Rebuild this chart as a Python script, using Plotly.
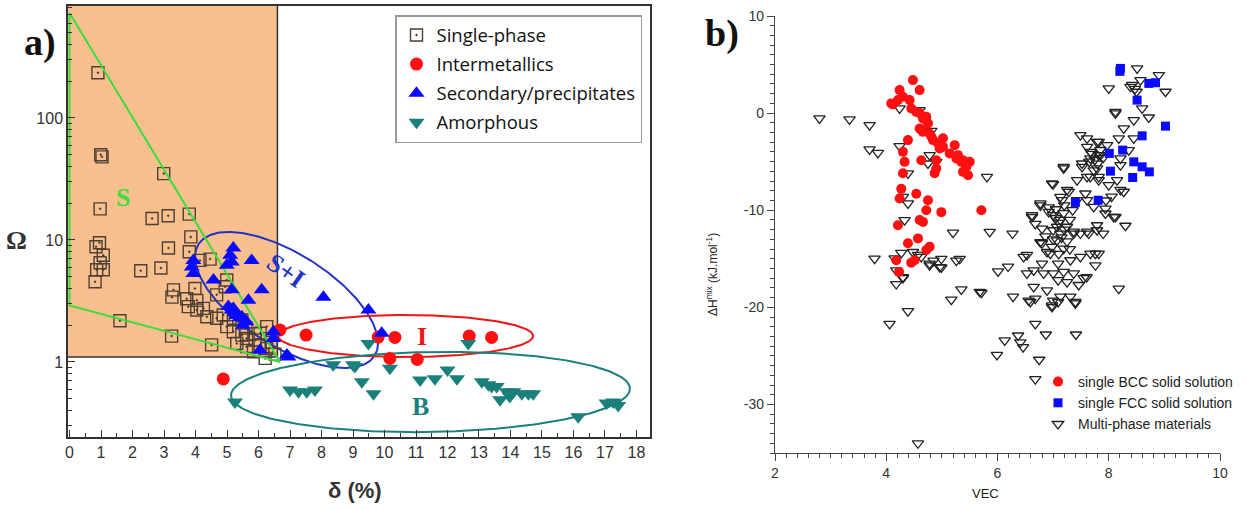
import numpy as np
import plotly.graph_objects as go

W, H = 1247, 510

# ---------------- panel a data (delta %, Omega) ----------------
sp_delta = [0.90, 0.99, 1.03, 2.99, 0.97, 2.62, 3.13, 3.80, 3.85, 0.95,
            3.14, 3.80, 0.84, 1.07, 0.97, 0.86, 1.07, 0.81, 2.26, 2.90,
            1.60, 3.24, 4.51, 4.46, 3.30, 3.25, 3.72, 4.04, 3.98, 4.04,
            3.77, 4.67, 4.94, 4.67, 4.99, 5.20, 5.47, 5.62, 5.89, 6.05,
            6.26, 6.26, 6.05, 6.21, 6.52, 4.88, 5.20, 5.47, 4.25, 4.36,
            5.31, 5.62, 5.84, 4.99, 4.14, 5.60, 5.90, 6.40]
sp_omega = [235, 50, 48, 35, 18, 15, 15.8, 16.3, 10.6, 9.5,
            8.6, 8.0, 8.8, 7.5, 6.5, 5.7, 5.7, 4.55, 5.6, 5.9,
            2.18, 1.63, 1.38, 6.97, 3.9, 3.4, 3.3, 3.2, 4.0, 2.67,
            2.84, 3.55, 4.14, 2.28, 1.95, 1.77, 1.66, 1.56, 1.51, 1.38,
            1.29, 1.95, 1.72, 1.07, 1.16, 2.43, 2.28, 2.21, 2.75, 2.35,
            1.42, 1.34, 1.21, 4.7, 6.8, 1.9, 1.7, 1.45]

im_delta = [4.88, 6.68, 7.51, 9.80, 10.33, 10.17, 11.04, 12.69, 13.40]
im_omega = [0.726, 1.83, 1.66, 1.60, 1.59, 1.07, 1.05, 1.63, 1.59]

sec_delta = [5.20, 5.10, 5.15, 4.99, 5.78, 3.93, 3.88, 3.93, 4.57, 5.15,
             6.10, 5.68, 8.06, 5.20, 5.04, 5.31, 5.47, 5.62, 5.15, 6.47,
             6.05, 6.47, 6.95, 9.49, 9.91, 6.90, 5.30, 5.40, 5.50, 5.25]
sec_omega = [8.6, 7.5, 6.6, 6.2, 6.8, 6.8, 6.0, 5.3, 4.7, 3.9,
             3.9, 3.2, 3.4, 2.75, 2.85, 2.5, 2.35, 2.14, 2.67, 1.77,
             1.25, 1.56, 1.10, 2.67, 1.72, 1.14, 2.4, 2.3, 2.0, 2.55]

am_delta = [5.25, 7.00, 7.27, 7.53, 7.79, 8.37, 9.00, 9.49, 9.06, 9.28,
            9.65, 10.17, 11.13, 11.60, 12.00, 12.30, 12.66, 13.09, 13.30, 13.40,
            13.56, 13.67, 13.88, 13.98, 14.09, 14.36, 14.57, 14.72, 16.15, 17.05,
            17.26, 17.42]
am_omega = [0.47, 0.59, 0.57, 0.57, 0.59, 0.95, 0.95, 1.42, 0.92, 0.69,
            0.55, 0.89, 0.71, 0.73, 0.86, 0.73, 1.42, 0.69, 0.65, 0.63,
            0.63, 0.49, 0.57, 0.52, 0.57, 0.55, 0.55, 0.55, 0.356, 0.46,
            0.47, 0.44]

# region limits / guide lines (panel a)
box_delta, box_omega = 6.6, 1.1
green_delta = [6.68, 0.0, 0.0, 6.68]
green_omega = [1.0, 725.0, 2.9, 1.0]

x_ticks_a = list(range(0, 19))
y_ticks_a = [1, 10, 100]

# ---------------- panel b data (VEC, dHmix) ----------------
bcc_vec = [4.09, 4.21, 4.24, 4.30, 4.48, 4.60, 4.42, 4.45, 4.54, 4.60,
           4.66, 4.72, 4.75, 4.60, 4.66, 4.78, 4.84, 4.93, 5.02, 5.02,
           4.96, 4.39, 4.30, 4.33, 4.30, 4.27, 4.24, 4.21, 4.39, 4.57,
           4.60, 4.66, 4.54, 4.63, 4.90, 4.90, 4.87, 4.75, 4.72, 4.99,
           5.23, 5.29, 5.38, 5.14, 5.26, 5.35, 5.44, 5.50, 5.47, 5.38,
           5.71, 4.18, 4.45, 4.51, 4.23, 4.78, 4.72, 4.63, 4.81, 4.12]
bcc_h = [1.00, 1.34, 2.37, 1.68, 3.40, 2.37, 1.34, 0.48, 0.13, 0.00,
         -0.55, -0.38, -1.06, -1.58, -1.93, -2.10, -2.78, -3.13, -2.60, -3.47,
         -3.64, -2.78, -3.99, -5.02, -6.20, -7.80, -8.80, -11.55, -13.40, -12.90,
         -11.00, -11.20, -8.30, -4.85, -4.85, -5.70, -6.20, -8.97, -10.00, -10.20,
         -3.30, -4.33, -4.85, -4.15, -4.67, -5.02, -5.53, -5.02, -6.40, -6.05,
         -10.00, -15.15, -15.40, -15.15, -16.35, -13.75, -14.10, -1.75, -2.40, 0.90]

fcc_vec = [8.21, 8.72, 8.84, 8.51, 9.02, 8.60, 8.25, 8.01, 8.45, 8.60,
           8.73, 8.43, 8.03, 7.40, 7.81, 8.20]
fcc_h = [4.60, 3.06, 3.13, 1.34, -1.34, -2.34, -3.81, -4.15, -5.02, -5.53,
         -6.05, -6.63, -5.98, -9.20, -8.97, 4.30]

mp_vec = [2.80, 3.34, 3.70, 3.70, 3.85, 4.24, 4.60, 4.81, 4.24, 4.78,
          4.75, 4.90, 4.39, 4.30, 4.39, 4.33, 5.20, 3.79, 4.15, 4.63,
          4.99, 5.32, 5.81, 5.86, 4.57, 4.78, 4.96, 4.30, 4.18, 5.17,
          5.35, 5.71, 4.39, 4.06, 4.57, 4.18, 4.99, 6.27, 6.01, 6.19,
          6.28, 6.47, 6.53, 6.65, 6.56, 6.68, 6.98, 7.00, 7.13, 6.89,
          6.83, 7.00, 7.09, 7.25, 7.46, 7.37, 7.19, 7.55, 7.31, 7.40,
          7.60, 7.09, 7.31, 7.49, 7.67, 7.76, 7.82, 8.18, 6.80, 6.95,
          6.98, 7.07, 7.13, 7.00, 7.25, 7.37, 7.49, 7.64, 7.79, 7.90,
          6.86, 6.80, 6.62, 6.68, 6.80, 6.77, 6.92, 7.00, 7.13, 7.19,
          7.16, 7.25, 7.43, 7.61, 7.73, 7.52, 7.67, 7.85, 7.61, 7.49,
          7.82, 8.12, 7.19, 6.98, 7.43, 7.61, 7.73, 7.94, 8.09, 8.00,
          7.82, 8.21, 6.65, 8.51, 8.90, 9.02, 8.00, 8.39, 8.57, 8.12,
          8.60, 8.72, 8.45, 8.27, 8.45, 7.61, 7.79, 8.18, 7.97, 7.67,
          7.82, 8.21, 8.36, 7.19, 7.52, 7.79, 8.21, 7.00, 7.67, 7.82,
          8.15, 8.27, 7.13, 7.28, 7.58, 7.94, 8.12, 6.77, 6.92, 6.62,
          6.53, 6.77, 7.07, 7.37, 7.61, 7.79, 7.76, 7.19, 6.89, 6.68,
          6.37, 6.13, 6.46, 6.41, 5.99, 6.87, 7.41, 6.75, 6.68, 6.98,
          7.40, 7.09, 6.59, 4.30, 4.78, 7.05, 7.10, 7.20, 7.15, 7.25,
          7.30, 7.05, 7.20, 7.35, 7.00, 7.30, 7.10, 7.70, 7.75, 7.80,
          7.90, 7.65, 7.85, 8.42, 8.47, 8.50, 5.68, 4.85, 5.26, 4.48,
          4.27, 8.30, 8.05, 7.95]
mp_h = [-0.55, -0.65, -1.24, -3.74, -4.09, 0.48, 0.31, -1.82, -3.40, -4.33,
        -5.19, -5.02, -6.20, -8.62, -9.30, -11.03, -12.30, -14.98, -14.95, -14.80,
        -15.00, -15.00, -6.56, -12.23, -14.60, -15.50, -15.85, -16.98, -17.60, -19.20,
        -18.16, -18.50, -20.40, -21.70, -34.00, -16.20, -15.90, -12.40, -16.30, -15.80,
        -18.90, -14.80, -16.50, -16.20, -19.30, -19.10, -19.80, -19.30, -18.90, -18.25,
        -16.50, -16.50, -17.20, -17.40, -17.70, -16.50, -16.35, -17.00, -18.90, -19.45,
        -16.90, -15.50, -15.15, -14.80, -14.47, -15.67, -14.47, -18.07, -15.50, -14.47,
        -13.78, -13.10, -12.40, -12.06, -11.70, -12.20, -12.40, -12.40, -12.06, -12.40,
        -12.70, -13.40, -10.70, -11.40, -11.90, -9.50, -9.70, -10.50, -11.00, -10.30,
        -8.97, -7.90, -6.90, -6.56, -5.90, -5.53, -4.67, -4.33, -3.47, -2.27,
        -2.96, -0.03, -5.70, -7.25, -8.97, -8.97, -9.66, -10.34, -10.70, -7.42,
        -6.90, -7.90, -17.90, 4.60, 3.92, 2.20, 2.54, 2.71, 3.40, 0.13,
        0.48, -0.45, -0.72, -1.58, -2.60, -2.60, -2.96, -2.60, -3.30, -3.99,
        -4.33, -4.67, -3.81, -5.53, -5.19, -5.70, -5.36, -7.32, -6.56, -6.56,
        -6.90, -8.10, -8.62, -8.10, -8.28, -9.83, -10.70, -9.30, -10.17, -10.50,
        -14.60, -13.30, -11.70, -12.40, -12.20, -11.55, -14.47, -13.95, -14.30, -21.70,
        -22.90, -23.40, -24.10, -23.60, -24.90, -22.80, -22.80, -25.40, -27.40, -19.97,
        -19.60, -19.45, -19.45, -16.90, -15.67, -10.80, -11.30, -12.00, -12.80, -13.20,
        -11.00, -9.90, -9.50, -10.00, -13.00, -14.00, -14.50, -4.20, -4.80, -5.20,
        -4.60, -5.00, -3.80, 2.90, 2.50, 2.20, -18.40, -15.20, -15.20, -14.30,
        -14.40, -11.60, -8.60, -9.00]

x_ticks_b = [2, 4, 6, 8, 10]
y_ticks_b = [10, 0, -10, -20, -30]

# ---------------- geometry ----------------
XA_PX = (68, 650)
YA_PX = (6, 437)
XA_RANGE = [-0.05, 18.43]
YA_RANGE = [-0.615, 2.918]
SX = (XA_PX[1] - XA_PX[0]) / (XA_RANGE[1] - XA_RANGE[0])
SY = (YA_PX[1] - YA_PX[0]) / (YA_RANGE[1] - YA_RANGE[0])

XB_PX = (775, 1220)
YB_PX = (16, 453)


def ellipse(cx, clog, a_px, b_px, ang_deg, n=300):
    t = np.linspace(0, 2 * np.pi, n)
    th = np.radians(ang_deg)
    dx = a_px * np.cos(t) * np.cos(th) - b_px * np.sin(t) * np.sin(th)
    dy = a_px * np.cos(t) * np.sin(th) + b_px * np.sin(t) * np.cos(th)
    return cx + dx / SX, 10 ** (clog - dy / SY)


ORANGE = '#f8c08f'
SQ = '#4d3f33'
GREEN = '#3ddc3d'
RED = '#ff1010'
BLUE = '#0a0aff'
TEAL = '#1b7f7b'
ELL_BLUE = '#2233c8'

fig = go.Figure()

top_omega = 10 ** YA_RANGE[1]
# orange region
fig.add_trace(go.Scatter(
    x=[XA_RANGE[0], box_delta, box_delta, XA_RANGE[0], XA_RANGE[0]],
    y=[box_omega, box_omega, top_omega, top_omega, box_omega],
    fill='toself', fillcolor=ORANGE, line=dict(width=0), mode='lines',
    showlegend=False, hoverinfo='skip', xaxis='x', yaxis='y'))
fig.add_trace(go.Scatter(
    x=[XA_RANGE[0], box_delta, box_delta], y=[box_omega, box_omega, top_omega],
    mode='lines', line=dict(color='#333', width=1.5),
    showlegend=False, hoverinfo='skip', xaxis='x', yaxis='y'))

# ellipses
for (cx, cl, a, b, ang, col) in [
        (6.89, 0.508, 104.2, 46.3, 32.3, ELL_BLUE),
        (10.67, 0.213, 127.5, 21.0, 0.0, '#ee1515'),
        (11.46, -0.246, 199.5, 40.0, -1.0, TEAL)]:
    ex, ey = ellipse(cx, cl, a, b, ang)
    fig.add_trace(go.Scatter(x=ex, y=ey, mode='lines', line=dict(color=col, width=2),
                             showlegend=False, hoverinfo='skip', xaxis='x', yaxis='y'))

# markers panel a
fig.add_trace(go.Scatter(
    x=sp_delta, y=sp_omega, mode='markers', name='Single-phase',
    marker=dict(symbol='square-open-dot', size=12, color=SQ, line=dict(width=1.4)),
    legend='legend', legendgroup='a1', xaxis='x', yaxis='y'))

fig.add_trace(go.Scatter(
    x=green_delta, y=green_omega, mode='lines', line=dict(color=GREEN, width=2),
    showlegend=False, hoverinfo='skip', xaxis='x', yaxis='y'))

fig.add_trace(go.Scatter(
    x=im_delta, y=im_omega, mode='markers', name='Intermetallics',
    marker=dict(symbol='circle', size=13, color=RED),
    legend='legend', legendgroup='a2', xaxis='x', yaxis='y'))
fig.add_trace(go.Scatter(
    x=sec_delta, y=sec_omega, mode='markers', name='Secondary/precipitates',
    marker=dict(symbol='triangle-up', size=14, color=BLUE),
    legend='legend', legendgroup='a3', xaxis='x', yaxis='y'))
fig.add_trace(go.Scatter(
    x=am_delta, y=am_omega, mode='markers', name='Amorphous',
    marker=dict(symbol='triangle-down', size=14, color=TEAL),
    legend='legend', legendgroup='a4', xaxis='x', yaxis='y'))

# markers panel b
fig.add_trace(go.Scatter(
    x=mp_vec, y=mp_h, mode='markers', name='Multi-phase materials',
    marker=dict(symbol='triangle-down-open', size=10, color='#222', line=dict(width=1.3)),
    legend='legend2', legendgroup='b3', legendrank=3, xaxis='x2', yaxis='y2'))
fig.add_trace(go.Scatter(
    x=bcc_vec, y=bcc_h, mode='markers', name='single BCC solid solution',
    marker=dict(symbol='circle', size=10, color=RED),
    legend='legend2', legendgroup='b1', legendrank=1, xaxis='x2', yaxis='y2'))
fig.add_trace(go.Scatter(
    x=fcc_vec, y=fcc_h, mode='markers', name='single FCC solid solution',
    marker=dict(symbol='square', size=9, color=BLUE),
    legend='legend2', legendgroup='b2', legendrank=2, xaxis='x2', yaxis='y2'))

minor_y_a = [m * 10 ** e for e in (-1, 0, 1, 2) for m in range(2, 10)]

tickfont_a = dict(family='Liberation Sans, Arial', size=16, color='#333')
tickfont_b = dict(family='Liberation Sans, Arial', size=14, color='#333')

fig.update_layout(
    width=W, height=H, margin=dict(l=0, r=0, t=0, b=0, autoexpand=False),
    paper_bgcolor='white', plot_bgcolor='white',
    xaxis=dict(domain=[XA_PX[0] / W, XA_PX[1] / W], range=XA_RANGE, automargin=False,
               tickvals=x_ticks_a, ticks='inside', ticklen=7, tickcolor='#333',
               minor=dict(dtick=0.5, tick0=0, ticks='inside', ticklen=4, tickcolor='#333'),
               showline=True, linecolor='#333', linewidth=1.5, mirror=True,
               showgrid=False, zeroline=False, tickfont=tickfont_a, anchor='y'),
    yaxis=dict(domain=[1 - YA_PX[1] / H, 1 - YA_PX[0] / H], type='log', range=YA_RANGE,
               automargin=False,
               tickvals=y_ticks_a, ticktext=[str(v) for v in y_ticks_a],
               ticks='inside', ticklen=7, tickcolor='#333',
               minor=dict(tickvals=minor_y_a, ticks='inside', ticklen=4, tickcolor='#333'),
               showline=True, linecolor='#333', linewidth=1.5, mirror=True,
               showgrid=False, zeroline=False, tickfont=tickfont_a, anchor='x'),
    xaxis2=dict(domain=[XB_PX[0] / W, XB_PX[1] / W], range=[2, 10], automargin=False,
                tickvals=x_ticks_b, ticktext=[str(v) for v in x_ticks_b],
                ticks='outside', ticklen=7, tickcolor='#444',
                minor=dict(dtick=0.2, tick0=2, ticks='outside', ticklen=4, tickcolor='#444'),
                showline=True, linecolor='#444', linewidth=1.2,
                showgrid=False, zeroline=False, tickfont=tickfont_b, anchor='y2'),
    yaxis2=dict(domain=[1 - YB_PX[1] / H, 1 - YB_PX[0] / H], range=[-35, 10], automargin=False,
                tickvals=y_ticks_b, ticktext=[str(v) for v in y_ticks_b],
                ticks='outside', ticklen=7, tickcolor='#444',
                minor=dict(dtick=1, tick0=0, ticks='outside', ticklen=4, tickcolor='#444'),
                showline=True, linecolor='#444', linewidth=1.2,
                showgrid=False, zeroline=False, tickfont=tickfont_b, anchor='x2'),
    legend=dict(x=395 / W, y=1 - 15 / H, xanchor='left', yanchor='top',
                bgcolor='white', bordercolor='#999', borderwidth=1.5,
                font=dict(family='Open Sans', size=18.5, color='#111'),
                tracegroupgap=2, itemsizing='trace'),
    legend2=dict(x=1038 / W, y=1 - 366 / H, xanchor='left', yanchor='top',
                 bgcolor='rgba(0,0,0,0)', borderwidth=0,
                 font=dict(family='Liberation Sans, Arial', size=14, color='#222'),
                 tracegroupgap=0, itemsizing='trace'),
)

ann = []
serif = 'Liberation Serif, Times New Roman'


def paper_text(text, px, py, font, angle=0):
    return dict(text=text, x=px / W, y=1 - py / H, xref='paper', yref='paper',
                xanchor='center', yanchor='middle', showarrow=False,
                textangle=angle, font=font)


ann.append(paper_text('<b>a)</b>', 40, 42, dict(family=serif, size=38, color='#111')))
ann.append(paper_text('<b>b)</b>', 722, 34, dict(family=serif, size=38, color='#111')))
ann.append(paper_text('<b>δ (%)</b>', 355, 490, dict(family='Liberation Sans, Arial', size=22, color='#333')))
ann.append(paper_text('<b>Ω</b>', 16, 240, dict(family='Liberation Serif, Times New Roman', size=26, color='#333')))
ann.append(paper_text('VEC', 985, 493, dict(family='Liberation Sans, Arial', size=13, color='#222')))
ann.append(paper_text('ΔH<sup>mix</sup> (kJ.mol<sup>-1</sup>)', 712, 275,
                      dict(family='Liberation Sans, Arial', size=12, color='#222'), angle=-90))


def data_text(text, d, om, font, angle=0):
    return dict(text=text, x=d, y=np.log10(om), xref='x', yref='y', showarrow=False,
                xanchor='center', yanchor='middle', textangle=angle, font=font)


ann.append(data_text('<b>S</b>', 1.7, 22.5, dict(family=serif, size=26, color=GREEN)))
ann.append(data_text('<b>S+I</b>', 6.85, 5.6, dict(family=serif, size=26, color=ELL_BLUE), 35))
ann.append(data_text('<b>I</b>', 11.2, 1.63, dict(family=serif, size=26, color='#ee1515')))
ann.append(data_text('<b>B</b>', 11.15, 0.43, dict(family=serif, size=26, color=TEAL)))
fig.update_layout(annotations=ann)

fig.write_html('out.html')
